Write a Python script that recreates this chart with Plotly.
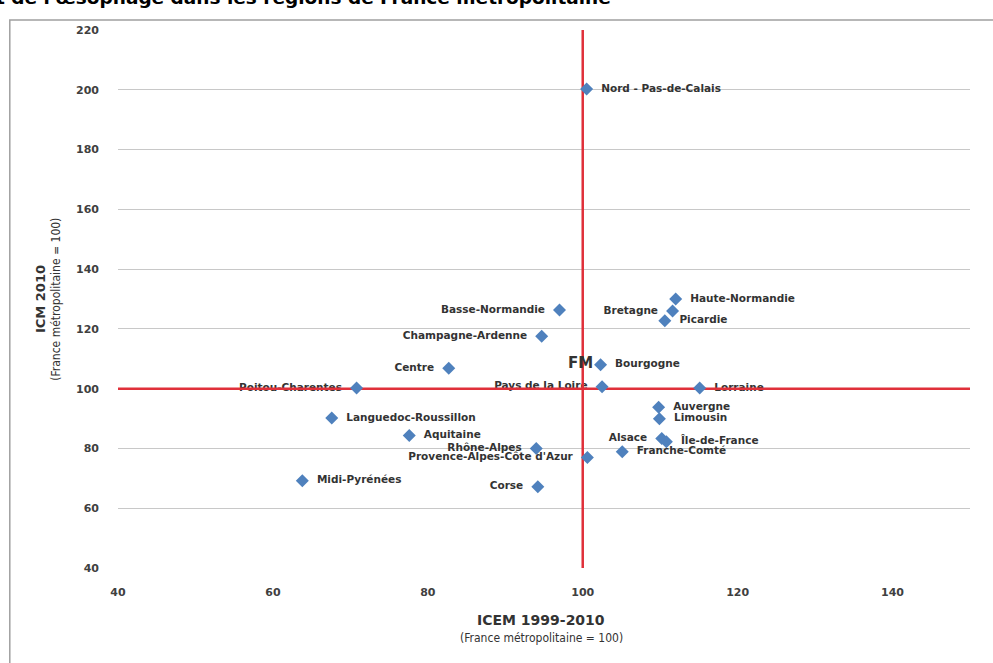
import plotly.graph_objects as go

regions = ['Nord - Pas-de-Calais', 'Haute-Normandie', 'Bretagne', 'Picardie',
           'Basse-Normandie', 'Champagne-Ardenne', 'Centre', 'Bourgogne',
           'Pays de la Loire', 'Lorraine', 'Poitou-Charentes', 'Languedoc-Roussillon',
           'Aquitaine', 'Rhône-Alpes', "Provence-Alpes-Côte d'Azur", 'Midi-Pyrénées',
           'Corse', 'Auvergne', 'Limousin', 'Alsace', 'Île-de-France', 'Franche-Comté']
icem = [100.5, 112.0, 111.6, 110.6, 97.0, 94.7, 82.7, 102.3,
        102.5, 115.1, 70.8, 67.6, 77.6, 94.0, 100.6, 63.8,
        94.2, 109.8, 109.9, 110.2, 110.8, 105.1]
icm = [200.3, 130.0, 126.0, 122.7, 126.3, 117.5, 106.8, 108.0,
       100.6, 100.2, 100.2, 90.2, 84.3, 80.0, 77.0, 69.2,
       67.2, 93.8, 89.9, 83.3, 82.2, 78.9]
left_labels = {'Bretagne', 'Basse-Normandie', 'Champagne-Ardenne', 'Centre',
               'Pays de la Loire', 'Poitou-Charentes', 'Rhône-Alpes',
               "Provence-Alpes-Côte d'Azur", 'Corse', 'Alsace'}

pad = '\u00a0\u00a0'
positions, labels = [], []
for r in regions:
    if r in left_labels:
        positions.append('middle left')
        labels.append(r + pad)
    else:
        positions.append('middle right')
        labels.append(pad + r)

fig = go.Figure()
# labels first, so the red lines pass over them (as in the original)
fig.add_trace(go.Scatter(
    x=icem, y=icm, mode='markers+text', text=labels, textposition=positions,
    marker=dict(symbol='diamond', size=10, color='rgba(0,0,0,0)'),
    textfont=dict(family='DejaVu Sans', size=10.5, color='#333333', weight='bold'),
    cliponaxis=False, showlegend=False, hoverinfo='skip'))

# red reference lines (France métropolitaine = 100)
fig.add_trace(go.Scatter(x=[100, 100], y=[40, 220], mode='lines',
                         line=dict(color='#E0303A', width=2.5), showlegend=False, hoverinfo='skip'))
fig.add_trace(go.Scatter(x=[40, 150], y=[100, 100], mode='lines',
                         line=dict(color='#E0303A', width=2.5), showlegend=False, hoverinfo='skip'))

fig.add_trace(go.Scatter(
    x=icem, y=icm, mode='markers', text=regions,
    marker=dict(symbol='diamond', size=10, color='#4F81BD'),
    cliponaxis=False, showlegend=False, hoverinfo='text'))

# outer frame
fig.add_shape(type='rect', x0=-0.127, x1=1.2, y0=-0.4, y1=1.0186, xref='paper', yref='paper',
              line=dict(color='#A0A0A0', width=1.5), layer='below')

fig.add_annotation(x=101.6, y=108.6, xref='x', yref='y', text='<b>FM</b>', showarrow=False,
                   xanchor='right', font=dict(family='DejaVu Sans', size=15, color='#333333'))
fig.add_annotation(x=-0.146, y=1.038, xref='paper', yref='paper', xanchor='left', yanchor='bottom',
                   text="<b>t de l'œsophage dans les régions de France métropolitaine</b>",
                   showarrow=False, font=dict(family='DejaVu Sans', size=18.5, color='#000000'))
fig.add_annotation(x=-0.0915, y=0.5, xref='paper', yref='paper', textangle=-90, xanchor='center',
                   text='<b>ICM 2010</b>', showarrow=False,
                   font=dict(family='DejaVu Sans', size=13, color='#333333'))
fig.add_annotation(x=-0.073, y=0.5, xref='paper', yref='paper', textangle=-90, xanchor='center',
                   text='(France métropolitaine = 100)', showarrow=False,
                   font=dict(family='DejaVu Sans Condensed', size=12, color='#333333'))
fig.add_annotation(x=0.4965, y=-0.0967, xref='paper', yref='paper', yanchor='middle',
                   text='<b>ICEM 1999-2010</b>', showarrow=False,
                   font=dict(family='DejaVu Sans', size=14, color='#333333'))
fig.add_annotation(x=0.4965, y=-0.130, xref='paper', yref='paper', yanchor='middle',
                   text='(France métropolitaine = 100)', showarrow=False,
                   font=dict(family='DejaVu Sans Condensed', size=12, color='#333333'))

fig.update_layout(
    width=993, height=663, plot_bgcolor='white', paper_bgcolor='white',
    margin=dict(l=118, r=23, t=30, b=95),
    xaxis=dict(range=[40, 150], tickvals=[40, 60, 80, 100, 120, 140], showgrid=False,
               zeroline=False, showline=False, ticklabelstandoff=16,
               tickfont=dict(family='DejaVu Sans', size=11, color='#404040', weight='bold')),
    yaxis=dict(range=[40, 220], dtick=20, showgrid=True, gridcolor='#C8C8C8', gridwidth=1,
               zeroline=False, showline=False, ticks='', ticklabelstandoff=18,
               tickfont=dict(family='DejaVu Sans', size=11, color='#404040', weight='bold')),
    # tick marks sitting on the red lines
    xaxis2=dict(overlaying='x', matches='x', anchor='free', position=1 / 3, side='bottom',
                tickvals=[40, 60, 80, 100, 120, 140], ticks='outside', ticklen=5,
                tickcolor='#C0303A', showticklabels=False, showgrid=False, zeroline=False),
    yaxis2=dict(overlaying='y', matches='y', anchor='free', position=60 / 110, side='left',
                dtick=20, ticks='outside', ticklen=5, tickcolor='#C0303A',
                showticklabels=False, showgrid=False, zeroline=False),
)
fig.write_html("out.html", config={'displayModeBar': False},
               post_script="document.body.style.margin = '0';")
